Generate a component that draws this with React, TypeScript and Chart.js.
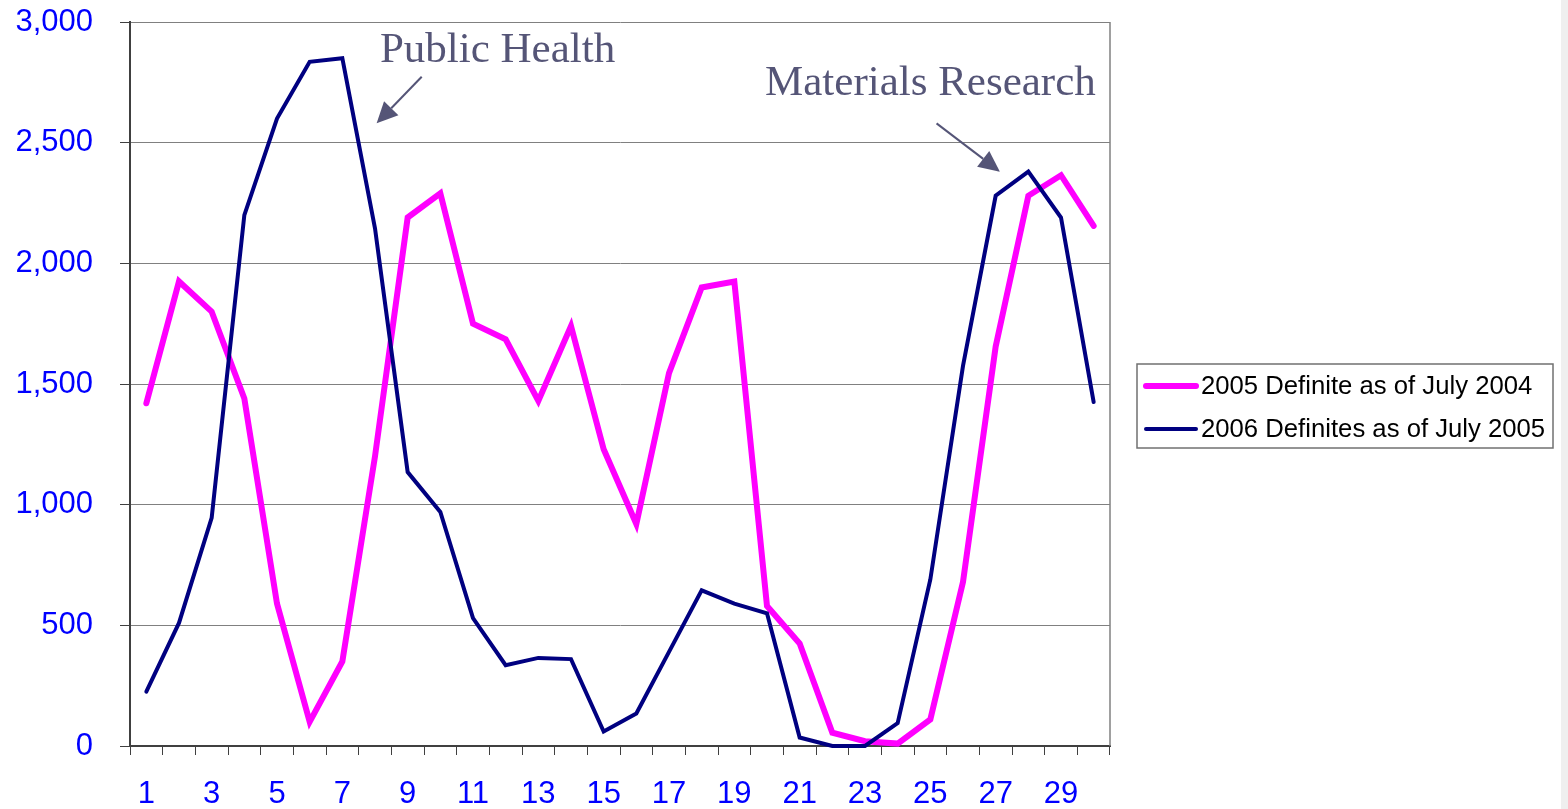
import React, { useEffect, useRef } from 'react';
import { Chart, registerables } from 'chart.js';

Chart.register(...registerables);

const xLabels = ['1', '2', '3', '4', '5', '6', '7', '8', '9', '10', '11', '12', '13', '14', '15', '16', '17', '18', '19', '20', '21', '22', '23', '24', '25', '26', '27', '28', '29', '30'];

const pinkLabel = '2005 Definite as of July 2004';
const pinkValues = [1420, 1925, 1800, 1440, 590, 100, 350, 1200, 2190, 2290, 1750, 1685, 1430, 1740, 1230, 920, 1545, 1900, 1925, 580, 425, 55, 20, 10, 110, 680, 1655, 2280, 2365, 2155];

const navyLabel = '2006 Definites as of July 2005';
const navyValues = [225, 510, 945, 2200, 2600, 2835, 2850, 2145, 1135, 970, 530, 335, 365, 360, 60, 135, 390, 645, 590, 550, 35, 0, 0, 95, 690, 1575, 2280, 2380, 2190, 1425];

const yMin = 0;
const yMax = 3000;
const yStep = 500;

// annotation anchors in data coordinates (category index, value)
const annotationTexts = ['Public Health', 'Materials Research'];
const annotationTextAt = [[7.15, 2834], [18.94, 2697]];
const annotationArrowFrom = [[8.43, 2773], [24.19, 2580]];
const annotationArrowTo = [[7.05, 2580], [26.13, 2380]];

const PINK = '#FF00FF';
const NAVY = '#000080';
const BLUE = '#0000FF';
const ANN = '#555577';
const SANS = '"Liberation Sans", Arial, sans-serif';
const SERIF = '"Liberation Serif", "Times New Roman", serif';

const extrasPlugin = {
  id: 'extras',
  beforeDraw(chart: any) {
    const ctx = chart.ctx;
    ctx.save();
    ctx.fillStyle = '#ffffff';
    ctx.fillRect(0, 0, chart.width, chart.height);
    ctx.fillStyle = '#efefef';
    ctx.fillRect(1561, 0, 7, chart.height);
    ctx.restore();
  },
  afterDraw(chart: any) {
    const ctx = chart.ctx;
    const a = chart.chartArea;
    const xs = chart.scales.x;
    const ys = chart.scales.y;
    ctx.save();
    // right frame
    ctx.strokeStyle = '#808080';
    ctx.lineWidth = 1.5;
    ctx.beginPath();
    ctx.moveTo(a.right, a.top);
    ctx.lineTo(a.right, a.bottom);
    ctx.stroke();

    // annotations
    ctx.font = '43px ' + SERIF;
    ctx.fillStyle = ANN;
    ctx.strokeStyle = ANN;
    ctx.textAlign = 'left';
    ctx.textBaseline = 'alphabetic';
    for (let i = 0; i < annotationTexts.length; i++) {
      const tx = xs.getPixelForValue(annotationTextAt[i][0]);
      const ty = ys.getPixelForValue(annotationTextAt[i][1]);
      ctx.fillText(annotationTexts[i], tx, ty);
      const x1 = xs.getPixelForValue(annotationArrowFrom[i][0]);
      const y1 = ys.getPixelForValue(annotationArrowFrom[i][1]);
      const x2 = xs.getPixelForValue(annotationArrowTo[i][0]);
      const y2 = ys.getPixelForValue(annotationArrowTo[i][1]);
      const ang = Math.atan2(y2 - y1, x2 - x1);
      const hl = 21;
      const hw = 10;
      const bx = x2 - hl * Math.cos(ang);
      const by = y2 - hl * Math.sin(ang);
      ctx.lineWidth = 2;
      ctx.beginPath();
      ctx.moveTo(x1, y1);
      ctx.lineTo(bx, by);
      ctx.stroke();
      ctx.beginPath();
      ctx.moveTo(x2, y2);
      ctx.lineTo(bx + hw * Math.sin(ang), by - hw * Math.cos(ang));
      ctx.lineTo(bx - hw * Math.sin(ang), by + hw * Math.cos(ang));
      ctx.closePath();
      ctx.fill();
    }

    // legend
    const lx = 1137;
    const ly = 364;
    const lw = 416;
    const lh = 84;
    ctx.fillStyle = '#ffffff';
    ctx.fillRect(lx, ly, lw, lh);
    ctx.strokeStyle = '#707070';
    ctx.lineWidth = 1.5;
    ctx.strokeRect(lx, ly, lw, lh);
    const ds = chart.data.datasets;
    const rows = [ds[0], ds[1]];
    ctx.font = '25.7px ' + SANS;
    ctx.textBaseline = 'middle';
    for (let i = 0; i < rows.length; i++) {
      const cy = ly + 22 + i * 43;
      ctx.strokeStyle = rows[i].borderColor;
      ctx.lineWidth = rows[i].borderWidth;
      ctx.lineCap = 'round';
      ctx.beginPath();
      ctx.moveTo(lx + 9, cy);
      ctx.lineTo(lx + 59, cy);
      ctx.stroke();
      ctx.fillStyle = '#000000';
      ctx.fillText(rows[i].label, lx + 64, cy + 1);
    }
    ctx.restore();
  },
};

export default function App() {
  const canvasRef = useRef<HTMLCanvasElement | null>(null);

  useEffect(() => {
    document.body.style.margin = '0';
    const canvas = canvasRef.current;
    if (!canvas) return;
    const chart = new Chart(canvas, {
      type: 'line',
      data: {
        labels: xLabels,
        datasets: [
          {
            label: pinkLabel,
            data: pinkValues,
            borderColor: PINK,
            backgroundColor: PINK,
            borderWidth: 6,
            pointRadius: 0,
            tension: 0,
            borderJoinStyle: 'miter',
            borderCapStyle: 'round',
            clip: false,
            order: 1,
          },
          {
            label: navyLabel,
            data: navyValues,
            borderColor: NAVY,
            backgroundColor: NAVY,
            borderWidth: 4,
            pointRadius: 0,
            tension: 0,
            borderJoinStyle: 'miter',
            borderCapStyle: 'round',
            clip: false,
            order: 0,
          },
        ],
      },
      options: {
        responsive: false,
        animation: false,
        events: [],
        layout: { padding: { top: 22, right: 458, left: 0, bottom: 0 }, autoPadding: false },
        plugins: { legend: { display: false }, tooltip: { enabled: false }, title: { display: false } },
        scales: {
          x: {
            type: 'category',
            offset: true,
            grid: {
              offset: true,
              drawOnChartArea: false,
              drawTicks: true,
              tickLength: 9,
              color: '#404040',
              lineWidth: 1,
            },
            border: { display: true, color: '#404040', width: 2 },
            ticks: {
              autoSkip: false,
              maxRotation: 0,
              minRotation: 0,
              color: BLUE,
              font: { family: SANS, size: 31 },
              padding: 21,
              callback: (_v: any, i: number) => (i % 2 === 0 ? xLabels[i] : ''),
            },
            afterFit: (s: any) => {
              s.height = 63;
              s.paddingLeft = 0;
              s.paddingRight = 0;
            },
          },
          y: {
            min: yMin,
            max: yMax,
            grid: {
              color: '#808080',
              lineWidth: 1,
              drawTicks: true,
              tickLength: 10,
              tickColor: '#404040',
            },
            border: { display: true, color: '#404040', width: 2 },
            ticks: {
              stepSize: yStep,
              color: BLUE,
              font: { family: SANS, size: 31 },
              padding: 27,
              callback: (v: any) => Number(v).toLocaleString('en-US'),
            },
            afterFit: (s: any) => {
              s.width = 130;
              s.paddingTop = 0;
              s.paddingBottom = 0;
            },
          },
        },
      },
      plugins: [extrasPlugin],
    } as any);
    return () => chart.destroy();
  }, []);

  return (
    <div style={{ position: 'absolute', left: 0, top: 0, width: 1568, height: 809 }}>
      <canvas ref={canvasRef} width={1568} height={809} style={{ width: 1568, height: 809, display: 'block' }} />
    </div>
  );
}
